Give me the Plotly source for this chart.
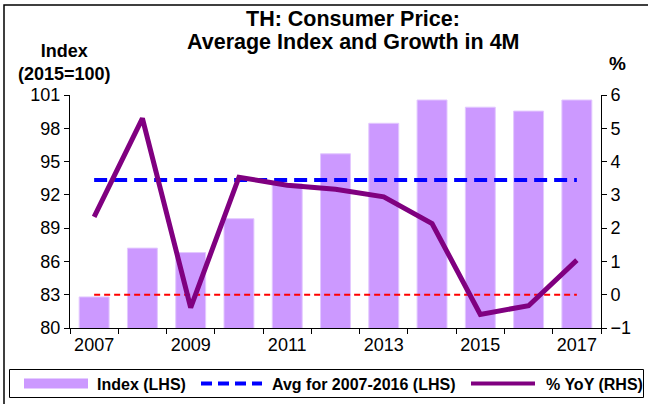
import plotly.graph_objects as go

years = [2007, 2008, 2009, 2010, 2011, 2012, 2013, 2014, 2015, 2016, 2017]
index_lhs = [82.8, 87.2, 86.8, 89.85, 93.0, 95.7, 98.45, 100.55, 99.9, 99.55, 100.55]
avg_2007_2016 = 93.35
yoy_rhs = [2.34, 5.30, -0.39, 3.53, 3.29, 3.17, 2.94, 2.14, -0.59, -0.33, 1.04]
zero_line = 0.0
x_labels = [2007, 2009, 2011, 2013, 2015, 2017]
left_ticks = [80, 83, 86, 89, 92, 95, 98, 101]
right_ticks = [-1, 0, 1, 2, 3, 4, 5, 6]
legend_names = ["Index (LHS)", "Avg for 2007-2016 (LHS)", "% YoY (RHS)"]

FONT = "Liberation Sans, Arial, sans-serif"
BAR_C = "#CC99FF"
BLUE = "#0000FF"
PURPLE = "#800080"

W, H = 648, 404
L, R, T, B = 70, 47, 95, 76
PW, PH = W - L - R, H - T - B


def px(x):
    return (x - L) / PW


def py(y):
    return (H - B - y) / PH


fig = go.Figure()
fig.add_trace(go.Bar(x=years, y=index_lhs, marker=dict(color=BAR_C, line=dict(color="#E3C8FF", width=1)),
                     width=0.62, showlegend=False, name=legend_names[0]))
fig.add_trace(go.Scatter(x=[years[0], years[-1]], y=[avg_2007_2016] * 2, mode="lines",
                         line=dict(color=BLUE, width=4, dash="13px,7px"), showlegend=False,
                         name=legend_names[1]))
fig.add_trace(go.Scatter(x=[years[0], years[-1]], y=[zero_line] * 2, mode="lines", yaxis="y2",
                         line=dict(color="#FF0000", width=2, dash="6px,4px"), showlegend=False))
fig.add_trace(go.Scatter(x=years, y=yoy_rhs, mode="lines", yaxis="y2",
                         line=dict(color=PURPLE, width=5), showlegend=False, name=legend_names[2]))

boundaries = [y - 0.5 for y in years] + [years[-1] + 0.5]

# manual legend (samples as shapes, labels as text)
leg_y = 383.5
shapes = [
    dict(type="rect", xref="paper", yref="paper", x0=px(4), x1=px(720), y0=py(5), y1=py(440),
         line=dict(color="black", width=1.5), fillcolor="rgba(0,0,0,0)", layer="below"),
    dict(type="rect", xref="paper", yref="paper", x0=px(9.5), x1=px(643.5), y0=py(369.5), y1=py(397.5),
         line=dict(color="black", width=1), fillcolor="white", layer="above"),
    dict(type="line", xref="paper", yref="paper", x0=px(24), x1=px(88), y0=py(leg_y), y1=py(leg_y),
         line=dict(color=BAR_C, width=10)),
    dict(type="line", xref="paper", yref="paper", x0=px(201), x1=px(262), y0=py(leg_y), y1=py(leg_y),
         line=dict(color=BLUE, width=4, dash="11px,6px")),
    dict(type="line", xref="paper", yref="paper", x0=px(471), x1=px(535), y0=py(leg_y), y1=py(leg_y),
         line=dict(color=PURPLE, width=4)),
]

annotations = [
    dict(text="<b>TH: Consumer Price:</b>", x=px(353), y=py(19)),
    dict(text="<b>Average Index and Growth in 4M</b>", x=px(353), y=py(42)),
    dict(text="<b>Index<br>(2015=100)</b>", x=px(64), y=py(62), font=dict(size=18)),
    dict(text="<b>%</b>", x=px(618), y=py(64), font=dict(size=19)),
    dict(text="<b>" + legend_names[0] + "</b>", x=px(95), y=py(leg_y + 0.5), xanchor="left",
         font=dict(size=16)),
    dict(text="<b>" + legend_names[1] + "</b>", x=px(270), y=py(leg_y + 0.5), xanchor="left",
         font=dict(size=16)),
    dict(text="<b>" + legend_names[2] + "</b>", x=px(544), y=py(leg_y + 0.5), xanchor="left",
         font=dict(size=16)),
]
for a in annotations[:2]:
    a["font"] = dict(size=21.5)
for a in annotations:
    a.setdefault("xanchor", "center")
    a.update(xref="paper", yref="paper", yanchor="middle", showarrow=False)

fig.update_layout(
    width=W, height=H,
    margin=dict(l=L, r=R, t=T, b=B),
    paper_bgcolor="white", plot_bgcolor="white",
    font=dict(family=FONT, size=18, color="black"),
    showlegend=False,
    bargap=0.38,
    xaxis=dict(range=[years[0] - 0.5, years[-1] + 0.5], tickmode="array", tickvals=x_labels,
               ticktext=[str(v) for v in x_labels], ticks="", showline=True, linecolor="black",
               linewidth=1, showgrid=False, zeroline=False, tickfont=dict(size=18),
               minor=dict(tickmode="array", tickvals=boundaries, ticks="outside", ticklen=5,
                          tickcolor="black", showgrid=False)),
    yaxis=dict(range=[80, 101], tickvals=left_ticks, ticks="outside", ticklen=5, tickcolor="black",
               showline=True, linecolor="black", linewidth=1, showgrid=False, zeroline=False,
               tickfont=dict(size=18)),
    yaxis2=dict(range=[-1, 6], tickvals=right_ticks, overlaying="y", side="right", ticks="outside",
                ticklen=5, tickcolor="black", showline=True, linecolor="black", linewidth=1,
                showgrid=False, zeroline=False, tickfont=dict(size=18)),
    annotations=annotations,
    shapes=shapes,
)

fig.write_html("out.html", config={"displayModeBar": False},
               post_script="document.body.style.margin='0';document.body.style.overflow='hidden';")
